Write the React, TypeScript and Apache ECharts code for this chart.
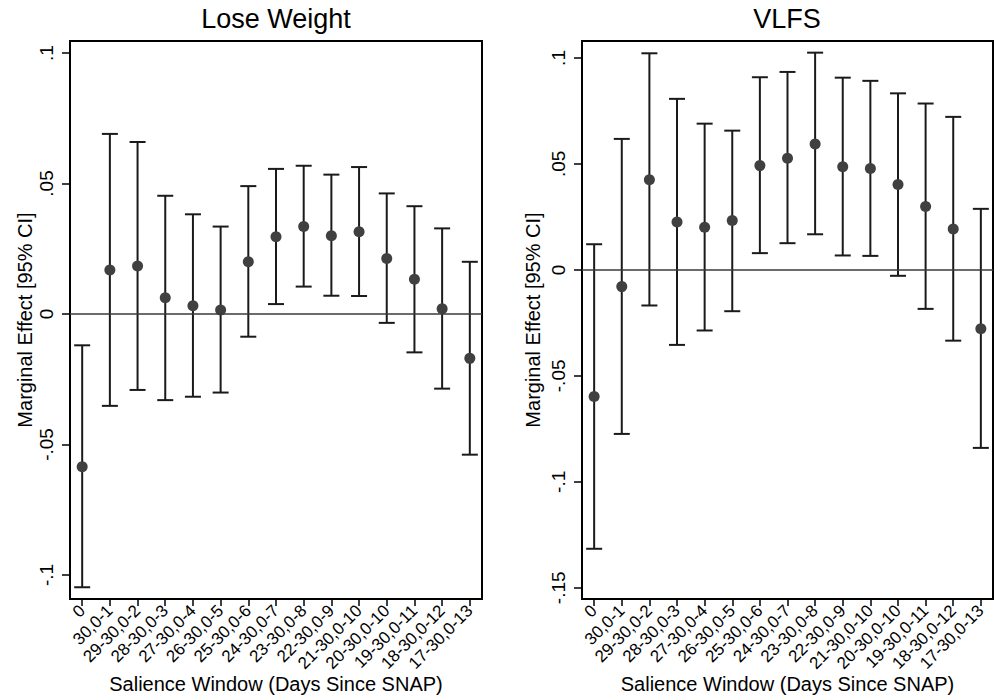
import React, { useEffect, useRef } from 'react';
import * as echarts from 'echarts';

const categories = ['0', '30,0-1', '29-30,0-2', '28-30,0-3', '27-30,0-4', '26-30,0-5', '25-30,0-6', '24-30,0-7', '23-30,0-8', '22-30,0-9', '21-30,0-10', '20-30,0-10', '19-30,0-11', '18-30,0-12', '17-30,0-13'];

const lwEst = [-0.0585, 0.0169, 0.0184, 0.0062, 0.0032, 0.0015, 0.0200, 0.0296, 0.0335, 0.0300, 0.0315, 0.0213, 0.0133, 0.0020, -0.0170];
const lwLow = [-0.1047, -0.0352, -0.0291, -0.0330, -0.0317, -0.0301, -0.0087, 0.0038, 0.0105, 0.0070, 0.0069, -0.0034, -0.0147, -0.0286, -0.0539];
const lwHigh = [-0.0120, 0.0690, 0.0659, 0.0453, 0.0382, 0.0335, 0.0490, 0.0556, 0.0568, 0.0534, 0.0563, 0.0462, 0.0413, 0.0328, 0.0200];

const vEst = [-0.0598, -0.0079, 0.0425, 0.0226, 0.0201, 0.0233, 0.0492, 0.0527, 0.0594, 0.0487, 0.0478, 0.0403, 0.0299, 0.0193, -0.0278];
const vLow = [-0.1316, -0.0774, -0.0168, -0.0354, -0.0286, -0.0195, 0.0079, 0.0126, 0.0168, 0.0068, 0.0066, -0.0028, -0.0184, -0.0334, -0.0840];
const vHigh = [0.0121, 0.0618, 0.1022, 0.0807, 0.0690, 0.0657, 0.0909, 0.0934, 0.1025, 0.0907, 0.0892, 0.0833, 0.0785, 0.0722, 0.0288];

const lwTicks = [-0.1, -0.05, 0, 0.05, 0.1];
const vTicks = [-0.15, -0.1, -0.05, 0, 0.05, 0.1];

const titles = ['Lose Weight', 'VLFS'];
const yTitle = 'Marginal Effect [95% CI]';
const xTitle = 'Salience Window (Days Since SNAP)';

const FONT = 'Liberation Sans, Arial, Helvetica, sans-serif';

const fmtY = (v: number) => {
  if (Math.abs(v) < 1e-12) return '0';
  const s = String(Math.abs(v)).replace(/^0/, '');
  return (v < 0 ? '-' : '') + s;
};

const errRender = (params: any, api: any) => {
  const x = api.value(0);
  const lo = api.value(1);
  const hi = api.value(2);
  const pLo = api.coord([x, lo]);
  const pHi = api.coord([x, hi]);
  const hw = 8;
  const style = { stroke: '#1a1a1a', lineWidth: 2 };
  return {
    type: 'group',
    children: [
      { type: 'line', shape: { x1: pLo[0], y1: pLo[1], x2: pHi[0], y2: pHi[1] }, style },
      { type: 'line', shape: { x1: pLo[0] - hw, y1: pLo[1], x2: pLo[0] + hw, y2: pLo[1] }, style },
      { type: 'line', shape: { x1: pHi[0] - hw, y1: pHi[1], x2: pHi[0] + hw, y2: pHi[1] }, style },
    ],
  };
};

export default function App() {
  const ref = useRef<HTMLDivElement>(null);
  useEffect(() => {
    document.body.style.margin = '0';
    const chart = echarts.init(ref.current!, null, { renderer: 'svg' });
    const xIdx = categories.map((_, i) => i);

    const makeX = (gridIndex: number) => ({
      type: 'value',
      gridIndex,
      min: -0.44,
      max: 14.44,
      axisLine: { show: true, onZero: false, lineStyle: { color: '#000', width: 2 } },
      axisTick: { show: true, customValues: xIdx, length: 7, lineStyle: { color: '#000', width: 1.5 } },
      axisLabel: {
        customValues: xIdx,
        formatter: (v: number) => categories[Math.round(v)] ?? '',
        rotate: 45,
        margin: 9,
        fontSize: 17,
        color: '#000',
        fontFamily: FONT,
      },
      splitLine: { show: false },
      name: xTitle,
      nameLocation: 'middle',
      nameGap: 75,
      nameMoveOverlap: false,
      nameTextStyle: { fontSize: 20, color: '#000', fontFamily: FONT },
    });

    const makeY = (gridIndex: number, min: number, max: number, ticks: number[], gap: number) => ({
      type: 'value',
      gridIndex,
      min,
      max,
      axisLine: { show: true, onZero: false, lineStyle: { color: '#000', width: 2 } },
      axisTick: { show: true, customValues: ticks, length: 8, lineStyle: { color: '#000', width: 1.5 } },
      axisLabel: {
        customValues: ticks,
        formatter: fmtY,
        rotate: 90,
        margin: 14,
        fontSize: 19,
        color: '#000',
        fontFamily: FONT,
      },
      splitLine: { show: false },
      name: yTitle,
      nameLocation: 'middle',
      nameGap: gap,
      nameMoveOverlap: false,
      nameTextStyle: { fontSize: 20, color: '#000', fontFamily: FONT },
    });

    const zeroLine = {
      silent: true,
      symbol: 'none',
      label: { show: false },
      lineStyle: { color: '#3a3a3a', width: 1.5, type: 'solid' },
      data: [{ yAxis: 0 }],
    };

    chart.setOption({
      animation: false,
      backgroundColor: '#fff',
      title: [
        { text: titles[0], left: 276, top: 5, textAlign: 'center', padding: 0, textStyle: { fontSize: 27, fontWeight: 'normal', color: '#000', fontFamily: FONT } },
        { text: titles[1], left: 787, top: 5, textAlign: 'center', padding: 0, textStyle: { fontSize: 27, fontWeight: 'normal', color: '#000', fontFamily: FONT } },
      ],
      grid: [
        { left: 70, right: 518, top: 41, bottom: 99, outerBoundsMode: 'none', containLabel: false, show: true, borderColor: '#000', borderWidth: 2, backgroundColor: 'transparent' },
        { left: 582, right: 7, top: 41, bottom: 99, outerBoundsMode: 'none', containLabel: false, show: true, borderColor: '#000', borderWidth: 2, backgroundColor: 'transparent' },
      ],
      xAxis: [makeX(0), makeX(1)],
      yAxis: [makeY(0, -0.1092, 0.1046, lwTicks, 35), makeY(1, -0.1553, 0.108, vTicks, 39)],
      series: [
        {
          type: 'custom',
          xAxisIndex: 0,
          yAxisIndex: 0,
          renderItem: errRender,
          encode: { x: 0, y: [1, 2] },
          data: xIdx.map((i) => [i, lwLow[i], lwHigh[i]]),
          z: 2,
        },
        {
          type: 'scatter',
          xAxisIndex: 0,
          yAxisIndex: 0,
          symbolSize: 11,
          itemStyle: { color: '#404040', opacity: 1 },
          data: xIdx.map((i) => [i, lwEst[i]]),
          markLine: zeroLine,
          z: 3,
        },
        {
          type: 'custom',
          xAxisIndex: 1,
          yAxisIndex: 1,
          renderItem: errRender,
          encode: { x: 0, y: [1, 2] },
          data: xIdx.map((i) => [i, vLow[i], vHigh[i]]),
          z: 2,
        },
        {
          type: 'scatter',
          xAxisIndex: 1,
          yAxisIndex: 1,
          symbolSize: 11,
          itemStyle: { color: '#404040', opacity: 1 },
          data: xIdx.map((i) => [i, vEst[i]]),
          markLine: zeroLine,
          z: 3,
        },
      ],
    });
    return () => chart.dispose();
  }, []);
  return <div ref={ref} style={{ width: 1000, height: 698 }} />;
}
